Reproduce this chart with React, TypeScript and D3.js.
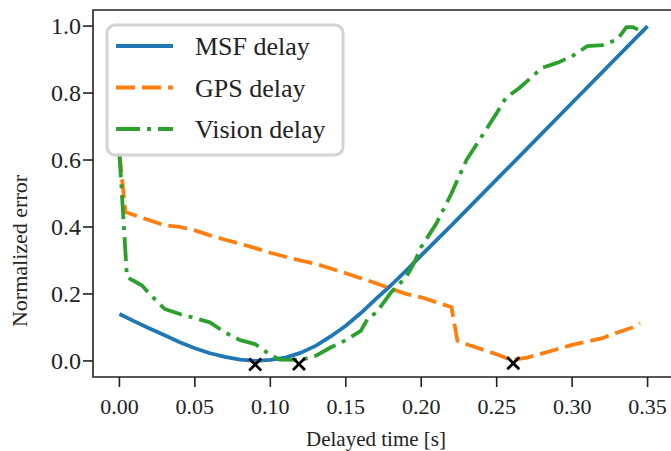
import React from "react";
import * as d3 from "d3";

// delayed time [s] and normalized error for each series
const msfT = [0, 0.01, 0.02, 0.03, 0.04, 0.05, 0.06, 0.07, 0.08, 0.09, 0.1, 0.11, 0.12, 0.13, 0.14, 0.15, 0.16, 0.17, 0.18, 0.19, 0.2, 0.21, 0.22, 0.25, 0.3, 0.35];
const msfErr = [0.14, 0.118, 0.097, 0.077, 0.056, 0.038, 0.023, 0.012, 0.004, 0.0, 0.003, 0.01, 0.024, 0.045, 0.073, 0.105, 0.143, 0.185, 0.226, 0.27, 0.315, 0.36, 0.405, 0.542, 0.771, 1.0];

const gpsT = [0, 0.004, 0.01, 0.02, 0.03, 0.04, 0.05, 0.06, 0.07, 0.08, 0.09, 0.1, 0.11, 0.12, 0.13, 0.14, 0.15, 0.16, 0.17, 0.18, 0.19, 0.2, 0.21, 0.22, 0.224, 0.23, 0.24, 0.25, 0.26, 0.27, 0.28, 0.29, 0.3, 0.31, 0.32, 0.33, 0.34, 0.345];
const gpsErr = [0.62, 0.445, 0.435, 0.42, 0.405, 0.4, 0.39, 0.375, 0.362, 0.35, 0.337, 0.323, 0.311, 0.3, 0.29, 0.276, 0.262, 0.247, 0.232, 0.216, 0.2, 0.19, 0.175, 0.161, 0.06, 0.05, 0.035, 0.02, 0.002, 0.01, 0.022, 0.035, 0.048, 0.058, 0.068, 0.085, 0.1, 0.112];

const visT = [0, 0.005, 0.01, 0.015, 0.02, 0.03, 0.04, 0.05, 0.06, 0.07, 0.08, 0.09, 0.1, 0.106, 0.12, 0.13, 0.14, 0.15, 0.16, 0.165, 0.17, 0.18, 0.19, 0.195, 0.2, 0.21, 0.22, 0.23, 0.24, 0.25, 0.256, 0.265, 0.28, 0.29, 0.3, 0.31, 0.32, 0.33, 0.336, 0.34, 0.348];
const visErr = [0.62, 0.25, 0.238, 0.225, 0.2, 0.155, 0.14, 0.128, 0.115, 0.085, 0.062, 0.05, 0.018, 0.004, 0.003, 0.015, 0.04, 0.062, 0.09, 0.13, 0.143, 0.205, 0.25, 0.29, 0.34, 0.41, 0.5, 0.6, 0.67, 0.74, 0.785, 0.815, 0.875, 0.89, 0.91, 0.94, 0.943, 0.96, 0.997, 0.997, 0.98];

// minima
const minT = [0.09, 0.119, 0.261];
const minErr = [-0.011, -0.009, -0.007];

const xTicks = [0, 0.05, 0.1, 0.15, 0.2, 0.25, 0.3, 0.35];
const yTicks = [0, 0.2, 0.4, 0.6, 0.8, 1.0];

const legendNames = ["MSF delay", "GPS delay", "Vision delay"];

const FONT = "'Liberation Serif', 'DejaVu Serif', serif";

export default function App() {
  const width = 671;
  const height = 451;
  const left = 93, right = 674, top = 10, bottom = 377;

  const x = d3.scaleLinear().domain([-0.0175, 0.3675]).range([left, right]);
  const y = d3.scaleLinear().domain([-0.048, 1.048]).range([bottom, top]);

  const line = d3
    .line<[number, number]>()
    .x(d => x(d[0]))
    .y(d => y(d[1]));

  const zip = (a: number[], b: number[]) => a.map((v, i) => [v, b[i]] as [number, number]);

  const series = [
    { data: zip(msfT, msfErr), color: "#1f77b4", dash: "none" },
    { data: zip(gpsT, gpsErr), color: "#ff7f0e", dash: "19 7" },
    { data: zip(visT, visErr), color: "#2ca02c", dash: "24 7 4 7" },
  ];

  const fx = d3.format(".2f");
  const fy = d3.format(".1f");

  return (
    <svg
      width={width}
      height={height}
      style={{ position: "absolute", left: 0, top: 0, background: "#fff" }}
      fontFamily={FONT}
    >
      <defs>
        <clipPath id="plot">
          <rect x={left} y={top} width={right - left} height={bottom - top} />
        </clipPath>
      </defs>

      {/* lines */}
      <g clipPath="url(#plot)">
        {series.map((s, i) => (
          <path
            key={i}
            d={line(s.data) || ""}
            fill="none"
            stroke={s.color}
            strokeWidth={3.8}
            strokeDasharray={s.dash}
            strokeLinejoin="round"
          />
        ))}
        {minT.map((t, i) => (
          <path
            key={i}
            d={`M${x(t) - 6},${y(minErr[i]) - 6}L${x(t) + 6},${y(minErr[i]) + 6}M${x(t) - 6},${y(minErr[i]) + 6}L${x(t) + 6},${y(minErr[i]) - 6}`}
            stroke="#000"
            strokeWidth={2.8}
          />
        ))}
      </g>

      {/* spines */}
      <path
        d={`M${left},${top}V${bottom}H${right}V${top}Z`}
        fill="none"
        stroke="#222"
        strokeWidth={1.6}
      />

      {/* x axis */}
      {xTicks.map((t, i) => (
        <g key={i} transform={`translate(${x(t)},${bottom})`}>
          <line y2={10} stroke="#222" strokeWidth={1.6} />
          <text y={37} textAnchor="middle" fontSize={22} fill="#222">
            {fx(t)}
          </text>
        </g>
      ))}
      <text x={376} y={446} textAnchor="middle" fontSize={21} fill="#222">
        Delayed time [s]
      </text>

      {/* y axis */}
      {yTicks.map((t, i) => (
        <g key={i} transform={`translate(${left},${y(t)})`}>
          <line x2={-10} stroke="#222" strokeWidth={1.6} />
          <text x={-12} y={8} textAnchor="end" fontSize={24} fill="#222">
            {fy(t)}
          </text>
        </g>
      ))}
      <text
        transform={`translate(27,251) rotate(-90)`}
        textAnchor="middle"
        fontSize={22}
        fill="#222"
      >
        Normalized error
      </text>

      {/* legend */}
      <g>
        <rect
          x={107}
          y={25}
          width={236}
          height={130}
          rx={8}
          fill="#fff"
          fillOpacity={0.85}
          stroke="#d3d3d3"
          strokeWidth={3}
        />
        {legendNames.map((name, i) => {
          const cy = 46 + i * 41.5;
          return (
            <g key={i}>
              <line
                x1={116}
                x2={173}
                y1={cy}
                y2={cy}
                stroke={series[i].color}
                strokeWidth={3.8}
                strokeDasharray={series[i].dash}
              />
              <text x={195} y={cy + 9} fontSize={26} fill="#222">
                {name}
              </text>
            </g>
          );
        })}
      </g>
    </svg>
  );
}
